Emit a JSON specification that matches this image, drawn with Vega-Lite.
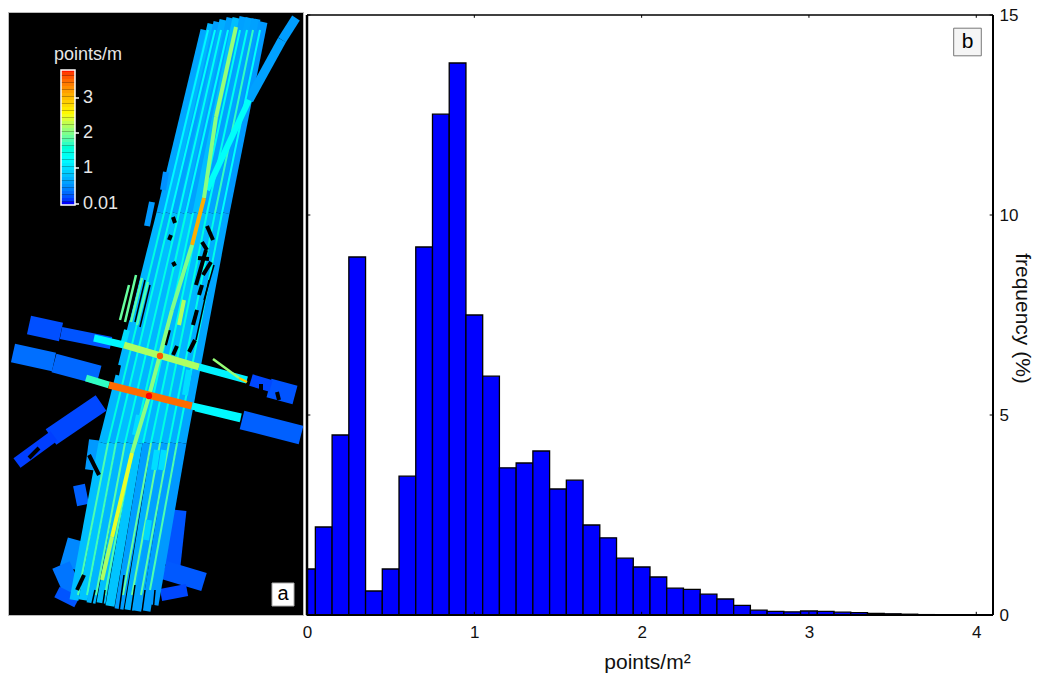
{"$schema":"https://vega.github.io/schema/vega-lite/v6.json","padding":{"left":7,"top":5,"right":14,"bottom":8},"background":"white","spacing":4,"bounds":"flush",
"config":{"font":"Liberation Sans","view":{"stroke":null},"axis":{"grid":false,"domain":false,"ticks":false}},
"datasets":{
"bins":[{"bin_start":0,"bin_end":0.05,"frequency":1.15},{"bin_start":0.05,"bin_end":0.15,"frequency":2.2},{"bin_start":0.15,"bin_end":0.25,"frequency":4.5},{"bin_start":0.25,"bin_end":0.35,"frequency":8.95},{"bin_start":0.35,"bin_end":0.45,"frequency":0.6},{"bin_start":0.45,"bin_end":0.55,"frequency":1.15},{"bin_start":0.55,"bin_end":0.65,"frequency":3.47},{"bin_start":0.65,"bin_end":0.75,"frequency":9.2},{"bin_start":0.75,"bin_end":0.85,"frequency":12.52},{"bin_start":0.85,"bin_end":0.95,"frequency":13.8},{"bin_start":0.95,"bin_end":1.05,"frequency":7.5},{"bin_start":1.05,"bin_end":1.15,"frequency":5.97},{"bin_start":1.15,"bin_end":1.25,"frequency":3.68},{"bin_start":1.25,"bin_end":1.35,"frequency":3.8},{"bin_start":1.35,"bin_end":1.45,"frequency":4.1},{"bin_start":1.45,"bin_end":1.55,"frequency":3.15},{"bin_start":1.55,"bin_end":1.65,"frequency":3.37},{"bin_start":1.65,"bin_end":1.75,"frequency":2.25},{"bin_start":1.75,"bin_end":1.85,"frequency":1.93},{"bin_start":1.85,"bin_end":1.95,"frequency":1.42},{"bin_start":1.95,"bin_end":2.05,"frequency":1.2},{"bin_start":2.05,"bin_end":2.15,"frequency":0.95},{"bin_start":2.15,"bin_end":2.25,"frequency":0.67},{"bin_start":2.25,"bin_end":2.35,"frequency":0.64},{"bin_start":2.35,"bin_end":2.45,"frequency":0.52},{"bin_start":2.45,"bin_end":2.55,"frequency":0.4},{"bin_start":2.55,"bin_end":2.65,"frequency":0.24},{"bin_start":2.65,"bin_end":2.75,"frequency":0.12},{"bin_start":2.75,"bin_end":2.85,"frequency":0.09},{"bin_start":2.85,"bin_end":2.95,"frequency":0.08},{"bin_start":2.95,"bin_end":3.05,"frequency":0.1},{"bin_start":3.05,"bin_end":3.15,"frequency":0.09},{"bin_start":3.15,"bin_end":3.25,"frequency":0.07},{"bin_start":3.25,"bin_end":3.35,"frequency":0.06},{"bin_start":3.35,"bin_end":3.45,"frequency":0.04},{"bin_start":3.45,"bin_end":3.55,"frequency":0.03},{"bin_start":3.55,"bin_end":3.65,"frequency":0.02},{"bin_start":3.65,"bin_end":3.75,"frequency":0.01},{"bin_start":3.75,"bin_end":3.85,"frequency":0.005},{"bin_start":3.85,"bin_end":3.95,"frequency":0.005},{"bin_start":3.95,"bin_end":4.05,"frequency":0.005}],
"map":[
{"k":"wide","x":30,"y":325,"x2":62,"y2":332,"d":0.18},{"k":"fringe","x":62,"y":333,"x2":112,"y2":343,"d":0.2},{"k":"wide","x":14,"y":353,"x2":55,"y2":362,"d":0.32},{"k":"wide","x":55,"y":363,"x2":100,"y2":375,"d":0.28},{"k":"fringe","x":252,"y":380,"x2":272,"y2":386,"d":0.15},{"k":"wide","x":270,"y":388,"x2":296,"y2":395,"d":0.2},{"k":"wide","x":243,"y":420,"x2":302,"y2":435,"d":0.25},
{"k":"wide","x":102,"y":403,"x2":52,"y2":437,"d":0.15},{"k":"fringe","x":55,"y":436,"x2":18,"y2":463,"d":0.12},
{"k":"wide","x":178,"y":510,"x2":172,"y2":565,"d":0.2},{"k":"wide","x":165,"y":570,"x2":205,"y2":582,"d":0.22},{"k":"fringe","x":162,"y":595,"x2":188,"y2":590,"d":0.15},
{"k":"fringe","x":96,"y":440,"x2":92,"y2":470,"d":0.55},{"k":"fringe","x":80,"y":485,"x2":84,"y2":505,"d":0.25},{"k":"wide","x":78,"y":540,"x2":70,"y2":568,"d":0.45},{"k":"wide","x":62,"y":565,"x2":74,"y2":592,"d":0.35},{"k":"fringe","x":58,"y":592,"x2":78,"y2":602,"d":0.2},
{"k":"diag","x":167,"y":172,"x2":164,"y2":190,"d":0.5},{"k":"diag","x":153,"y":202,"x2":148,"y2":226,"d":0.55},
{"k":"swath","x":206,"y":30,"x2":162,"y2":213,"d":0.62},{"k":"swath","x":213,"y":24,"x2":169,"y2":213,"d":0.72},{"k":"swath","x":219,"y":22,"x2":176,"y2":213,"d":0.6},{"k":"swath","x":225,"y":20,"x2":183,"y2":213,"d":0.68},{"k":"swath","x":232,"y":18,"x2":190,"y2":213,"d":0.6},{"k":"swath","x":238,"y":18,"x2":198,"y2":213,"d":0.78},{"k":"swath","x":245,"y":17,"x2":205,"y2":213,"d":0.6},{"k":"swath","x":251,"y":18,"x2":212,"y2":213,"d":0.62},{"k":"swath","x":257,"y":19,"x2":219,"y2":213,"d":0.6},{"k":"swath","x":264,"y":22,"x2":226,"y2":213,"d":0.55},
{"k":"swath","x":162,"y":213,"x2":104,"y2":443,"d":0.72},{"k":"swath","x":169,"y":213,"x2":113,"y2":443,"d":0.68},{"k":"swath","x":176,"y":213,"x2":122,"y2":443,"d":0.78},{"k":"swath","x":183,"y":213,"x2":130,"y2":443,"d":0.72},{"k":"swath","x":190,"y":213,"x2":139,"y2":443,"d":0.82},{"k":"swath","x":198,"y":213,"x2":148,"y2":443,"d":0.72},{"k":"swath","x":205,"y":213,"x2":157,"y2":443,"d":0.78},{"k":"swath","x":212,"y":213,"x2":165,"y2":443,"d":0.72},{"k":"swath","x":219,"y":213,"x2":174,"y2":443,"d":0.68},{"k":"swath","x":226,"y":213,"x2":183,"y2":443,"d":0.62},
{"k":"swath","x":104,"y":443,"x2":75,"y2":600,"d":0.78},{"k":"swath","x":113,"y":443,"x2":84,"y2":600,"d":0.82},{"k":"swath","x":122,"y":443,"x2":92,"y2":603,"d":0.72},{"k":"swath","x":130,"y":443,"x2":102,"y2":603,"d":0.78},{"k":"swath","x":139,"y":443,"x2":111,"y2":606,"d":0.82},{"k":"swath","x":148,"y":443,"x2":120,"y2":609,"d":0.58},{"k":"swath","x":157,"y":443,"x2":130,"y2":610,"d":0.68},{"k":"swath","x":165,"y":443,"x2":138,"y2":611,"d":0.6},{"k":"swath","x":174,"y":443,"x2":147,"y2":611,"d":0.58},{"k":"swath","x":183,"y":443,"x2":155,"y2":605,"d":0.55},
{"k":"diag","x":158,"y":450,"x2":155,"y2":470,"d":1.0},{"k":"diag","x":165,"y":450,"x2":162,"y2":470,"d":1.0},{"k":"diag","x":150,"y":520,"x2":147,"y2":540,"d":0.95},{"k":"diag","x":128,"y":330,"x2":124,"y2":345,"d":1.0},{"k":"diag","x":190,"y":370,"x2":186,"y2":395,"d":1.0},{"k":"diag","x":140,"y":415,"x2":136,"y2":435,"d":1.0},
{"k":"overlap","x":209,"y":30,"x2":165,"y2":213,"d":1.2},{"k":"overlap","x":216,"y":30,"x2":172,"y2":213,"d":1.3},{"k":"overlap","x":222,"y":30,"x2":180,"y2":213,"d":1.35},{"k":"overlap","x":229,"y":30,"x2":187,"y2":213,"d":1.3},{"k":"overlap","x":241,"y":30,"x2":201,"y2":213,"d":1.4},{"k":"overlap","x":248,"y":30,"x2":208,"y2":213,"d":1.4},{"k":"overlap","x":254,"y":30,"x2":216,"y2":213,"d":1.7},{"k":"overlap","x":261,"y":30,"x2":223,"y2":213,"d":1.3},
{"k":"overlap","x":165,"y":213,"x2":109,"y2":443,"d":1.5},{"k":"overlap","x":172,"y":213,"x2":117,"y2":443,"d":1.45},{"k":"overlap","x":180,"y":213,"x2":126,"y2":443,"d":1.45},{"k":"overlap","x":187,"y":213,"x2":135,"y2":443,"d":1.5},{"k":"overlap","x":194,"y":213,"x2":144,"y2":443,"d":1.45},{"k":"overlap","x":201,"y":213,"x2":152,"y2":443,"d":1.45},{"k":"overlap","x":208,"y":213,"x2":161,"y2":443,"d":1.5},{"k":"overlap","x":216,"y":213,"x2":170,"y2":443,"d":1.45},{"k":"overlap","x":223,"y":213,"x2":178,"y2":443,"d":1.45},
{"k":"overlap","x":109,"y":443,"x2":79,"y2":595,"d":1.8},{"k":"overlap","x":117,"y":443,"x2":88,"y2":595,"d":1.75},{"k":"overlap","x":126,"y":443,"x2":97,"y2":595,"d":1.85},{"k":"overlap","x":135,"y":443,"x2":106,"y2":595,"d":1.8},{"k":"overlap","x":152,"y":443,"x2":124,"y2":595,"d":1.9},{"k":"overlap","x":161,"y":443,"x2":133,"y2":595,"d":1.9},{"k":"overlap","x":170,"y":443,"x2":142,"y2":595,"d":1.85},{"k":"overlap","x":178,"y":443,"x2":151,"y2":590,"d":1.8},
{"k":"swath","x":297,"y":18,"x2":283,"y2":40,"d":0.58},{"k":"swath","x":283,"y":40,"x2":250,"y2":100,"d":0.6},{"k":"diag","x":250,"y":100,"x2":208,"y2":190,"d":1.3},{"k":"axial","x":237,"y":27,"x2":217,"y2":117,"d":2.1},{"k":"axial","x":217,"y":117,"x2":205,"y2":198,"d":2.05},{"k":"axial","x":205,"y":198,"x2":193,"y2":245,"d":3.1},{"k":"axial","x":193,"y":245,"x2":173,"y2":310,"d":2.0},{"k":"axial","x":185,"y":300,"x2":180,"y2":325,"d":2.2},{"k":"axial","x":173,"y":310,"x2":150,"y2":396,"d":2.05},{"k":"axial","x":150,"y":396,"x2":133,"y2":453,"d":2.05},{"k":"axial","x":133,"y":453,"x2":113,"y2":537,"d":2.45},{"k":"axial","x":113,"y":537,"x2":103,"y2":580,"d":2.2},
{"k":"strip","x":95,"y":338,"x2":125,"y2":345,"d":1.2},{"k":"strip","x":125,"y":345,"x2":200,"y2":367,"d":2.2},{"k":"strip","x":200,"y":367,"x2":248,"y2":380,"d":1.15},{"k":"thin","x":214,"y":359,"x2":240,"y2":378,"d":2.1},{"k":"thin","x":240,"y":378,"x2":248,"y2":382,"d":2.9},
{"k":"strip","x":87,"y":378,"x2":110,"y2":385,"d":1.7},{"k":"strip","x":110,"y":385,"x2":193,"y2":406,"d":3.5},{"k":"strip","x":193,"y":406,"x2":242,"y2":417,"d":1.2},{"k":"thin","x":196,"y":410,"x2":241,"y2":421,"d":1.2},
{"k":"thin","x":137,"y":275,"x2":126,"y2":322,"d":1.9},{"k":"thin","x":143,"y":278,"x2":132,"y2":322,"d":1.85},{"k":"thin","x":149,"y":282,"x2":138,"y2":325,"d":1.8},{"k":"thin","x":130,"y":285,"x2":121,"y2":320,"d":1.9},
{"k":"gap","x":207,"y":250,"x2":197,"y2":285,"d":0},{"k":"gap","x":212,"y":262,"x2":204,"y2":275,"d":0},{"k":"gap","x":208,"y":226,"x2":214,"y2":240,"d":0},{"k":"gap","x":203,"y":242,"x2":208,"y2":250,"d":0},{"k":"gap","x":199,"y":258,"x2":210,"y2":259,"d":0},{"k":"gap","x":174,"y":217,"x2":176,"y2":223,"d":0},{"k":"gap","x":172,"y":235,"x2":170,"y2":240,"d":0},{"k":"gap","x":178,"y":346,"x2":174,"y2":355,"d":0},{"k":"gap","x":203,"y":285,"x2":200,"y2":295,"d":0},{"k":"gap","x":174,"y":262,"x2":176,"y2":266,"d":0},{"k":"gap","x":198,"y":310,"x2":194,"y2":325,"d":0},{"k":"gap","x":170,"y":330,"x2":166,"y2":345,"d":0},{"k":"gap","x":196,"y":340,"x2":190,"y2":352,"d":0},{"k":"gap","x":120,"y":365,"x2":118,"y2":375,"d":0},{"k":"gap","x":90,"y":455,"x2":100,"y2":475,"d":0},{"k":"gap","x":85,"y":575,"x2":78,"y2":590,"d":0},{"k":"gap","x":278,"y":392,"x2":280,"y2":400,"d":0},{"k":"gap","x":262,"y":384,"x2":262,"y2":390,"d":0},{"k":"gap","x":40,"y":448,"x2":30,"y2":458,"d":0},
{"k":"gapthin","x":134,"y":278,"x2":124,"y2":320,"d":0},{"k":"gapthin","x":140,"y":278,"x2":130,"y2":320,"d":0},{"k":"gapthin","x":146,"y":280,"x2":136,"y2":322,"d":0},{"k":"gapthin","x":151,"y":285,"x2":141,"y2":327,"d":0},{"k":"gapthin","x":210,"y":280,"x2":197,"y2":340,"d":0},{"k":"gapthin","x":215,"y":265,"x2":205,"y2":300,"d":0},{"k":"gapthin","x":125,"y":575,"x2":120,"y2":612,"d":0},{"k":"gapthin","x":136,"y":585,"x2":132,"y2":612,"d":0},{"k":"gapthin","x":146,"y":590,"x2":143,"y2":612,"d":0},{"k":"gapthin","x":156,"y":590,"x2":154,"y2":612,"d":0},{"k":"gapthin","x":106,"y":590,"x2":103,"y2":610,"d":0},{"k":"gapthin","x":96,"y":590,"x2":92,"y2":608,"d":0}
],
"hot":[{"x":161,"y":356,"d":3.6},{"x":150,"y":396,"d":3.83}],
"cbar":[{"x":62,"x2":76,"d":0.01,"y":205,"y2":201.5},{"x":62,"x2":76,"d":0.1,"y":201.5,"y2":198},{"x":62,"x2":76,"d":0.2,"y":198,"y2":194.5},{"x":62,"x2":76,"d":0.3,"y":194.5,"y2":191},{"x":62,"x2":76,"d":0.4,"y":191,"y2":187.5},{"x":62,"x2":76,"d":0.5,"y":187.5,"y2":184},{"x":62,"x2":76,"d":0.6,"y":184,"y2":180.5},{"x":62,"x2":76,"d":0.7,"y":180.5,"y2":177},{"x":62,"x2":76,"d":0.8,"y":177,"y2":173.5},{"x":62,"x2":76,"d":0.9,"y":173.5,"y2":170},{"x":62,"x2":76,"d":1.0,"y":170,"y2":166.5},{"x":62,"x2":76,"d":1.1,"y":166.5,"y2":163},{"x":62,"x2":76,"d":1.2,"y":163,"y2":159.5},{"x":62,"x2":76,"d":1.3,"y":159.5,"y2":156},{"x":62,"x2":76,"d":1.4,"y":156,"y2":152.5},{"x":62,"x2":76,"d":1.5,"y":152.5,"y2":149},{"x":62,"x2":76,"d":1.6,"y":149,"y2":145.5},{"x":62,"x2":76,"d":1.7,"y":145.5,"y2":142},{"x":62,"x2":76,"d":1.8,"y":142,"y2":138.5},{"x":62,"x2":76,"d":1.9,"y":138.5,"y2":135},{"x":62,"x2":76,"d":2.0,"y":135,"y2":131.5},{"x":62,"x2":76,"d":2.1,"y":131.5,"y2":128},{"x":62,"x2":76,"d":2.2,"y":128,"y2":124.5},{"x":62,"x2":76,"d":2.3,"y":124.5,"y2":121},{"x":62,"x2":76,"d":2.4,"y":121,"y2":117.5},{"x":62,"x2":76,"d":2.5,"y":117.5,"y2":114},{"x":62,"x2":76,"d":2.6,"y":114,"y2":110.5},{"x":62,"x2":76,"d":2.7,"y":110.5,"y2":107},{"x":62,"x2":76,"d":2.8,"y":107,"y2":103.5},{"x":62,"x2":76,"d":2.9,"y":103.5,"y2":100},{"x":62,"x2":76,"d":3.0,"y":100,"y2":96.5},{"x":62,"x2":76,"d":3.1,"y":96.5,"y2":93},{"x":62,"x2":76,"d":3.2,"y":93,"y2":89.5},{"x":62,"x2":76,"d":3.3,"y":89.5,"y2":86},{"x":62,"x2":76,"d":3.4,"y":86,"y2":82.5},{"x":62,"x2":76,"d":3.5,"y":82.5,"y2":79},{"x":62,"x2":76,"d":3.6,"y":79,"y2":75.5},{"x":62,"x2":76,"d":3.7,"y":75.5,"y2":72},{"x":62,"x2":76,"d":3.8,"y":72,"y2":70}],
"cbar_ticks":[{"x":76,"x2":80,"y":98,"label":"3"},{"x":76,"x2":80,"y":133,"label":"2"},{"x":76,"x2":80,"y":168,"label":"1"},{"x":76,"x2":80,"y":204,"label":"0.01"}],
"tick_x":[{"at":1},{"at":2},{"at":3},{"at":4}],
"tick_y":[{"at":5},{"at":10},{"at":15}]
},
"hconcat":[
{"width":295,"height":603,"view":{"fill":"black","stroke":"#bbbbbb"},
"encoding":{"x":{"field":"x","type":"quantitative","scale":{"domain":[9,304]},"axis":null},"y":{"field":"y","type":"quantitative","scale":{"domain":[615,12]},"axis":null}},
"layer":[
{"data":{"name":"map"},"transform":[{"filter":"datum.k=='wide'"}],"mark":{"type":"rule","strokeWidth":19,"clip":true},"encoding":{"x2":{"field":"x2"},"y2":{"field":"y2"},"color":{"field":"d","type":"quantitative","legend":null,"scale":{"domain":[0.01,1.25,2.55,3.83],"range":["#0000ff","#00ffff","#ffff00","#ff0000"]}}}},
{"data":{"name":"map"},"transform":[{"filter":"datum.k=='fringe'"}],"mark":{"type":"rule","strokeWidth":12,"clip":true},"encoding":{"x2":{"field":"x2"},"y2":{"field":"y2"},"color":{"field":"d","type":"quantitative","legend":null}}},
{"data":{"name":"map"},"transform":[{"filter":"datum.k=='swath'"}],"mark":{"type":"rule","strokeWidth":9,"clip":true},"encoding":{"x2":{"field":"x2"},"y2":{"field":"y2"},"color":{"field":"d","type":"quantitative","legend":null}}},
{"data":{"name":"map"},"transform":[{"filter":"datum.k=='overlap'"}],"mark":{"type":"rule","strokeWidth":2,"clip":true},"encoding":{"x2":{"field":"x2"},"y2":{"field":"y2"},"color":{"field":"d","type":"quantitative","legend":null}}},
{"data":{"name":"map"},"transform":[{"filter":"datum.k=='diag'"}],"mark":{"type":"rule","strokeWidth":6,"clip":true},"encoding":{"x2":{"field":"x2"},"y2":{"field":"y2"},"color":{"field":"d","type":"quantitative","legend":null}}},
{"data":{"name":"map"},"transform":[{"filter":"datum.k=='gap'"}],"mark":{"type":"rule","strokeWidth":4,"color":"black","clip":true},"encoding":{"x2":{"field":"x2"},"y2":{"field":"y2"}}},
{"data":{"name":"map"},"transform":[{"filter":"datum.k=='gapthin'"}],"mark":{"type":"rule","strokeWidth":1.5,"color":"black","clip":true},"encoding":{"x2":{"field":"x2"},"y2":{"field":"y2"}}},
{"data":{"name":"map"},"transform":[{"filter":"datum.k=='axial'"}],"mark":{"type":"rule","strokeWidth":4,"clip":true},"encoding":{"x2":{"field":"x2"},"y2":{"field":"y2"},"color":{"field":"d","type":"quantitative","legend":null}}},
{"data":{"name":"map"},"transform":[{"filter":"datum.k=='strip'"}],"mark":{"type":"rule","strokeWidth":7,"clip":true},"encoding":{"x2":{"field":"x2"},"y2":{"field":"y2"},"color":{"field":"d","type":"quantitative","legend":null}}},
{"data":{"name":"map"},"transform":[{"filter":"datum.k=='thin'"}],"mark":{"type":"rule","strokeWidth":2.5,"clip":true},"encoding":{"x2":{"field":"x2"},"y2":{"field":"y2"},"color":{"field":"d","type":"quantitative","legend":null}}},
{"data":{"name":"hot"},"mark":{"type":"circle","size":40,"opacity":1},"encoding":{"color":{"field":"d","type":"quantitative","legend":null}}},
{"data":{"name":"cbar"},"mark":{"type":"rect"},"encoding":{"x2":{"field":"x2"},"y2":{"field":"y2"},"color":{"field":"d","type":"quantitative","legend":null}}},
{"data":{"values":[{"x":62,"x2":76,"y":70,"y2":205}]},"mark":{"type":"rect","fillOpacity":0,"stroke":"white","strokeWidth":1.5},"encoding":{"x2":{"field":"x2"},"y2":{"field":"y2"}}},
{"data":{"name":"cbar_ticks"},"mark":{"type":"rule","color":"white","strokeWidth":1.5},"encoding":{"x2":{"field":"x2"}}},
{"data":{"name":"cbar_ticks"},"mark":{"type":"text","color":"#e6e6e6","fontSize":18,"align":"left","baseline":"middle","dx":4},"encoding":{"x":{"field":"x2","type":"quantitative"},"text":{"field":"label"}}},
{"data":{"values":[{"x":89,"y":55,"title":"points/m"}]},"mark":{"type":"text","color":"#e6e6e6","fontSize":18,"align":"center","baseline":"middle"},"encoding":{"text":{"field":"title"}}},
{"data":{"values":[{"x":273,"x2":295,"y":583,"y2":606}]},"mark":{"type":"rect","fill":"white","stroke":"#aaaaaa"},"encoding":{"x2":{"field":"x2"},"y2":{"field":"y2"}}},
{"data":{"values":[{"x":284,"y":594,"panel":"a"}]},"mark":{"type":"text","fontSize":20,"color":"black","baseline":"middle","align":"center"},"encoding":{"text":{"field":"panel"}}}
]},
{"width":686,"height":603,"layer":[
{"data":{"name":"bins"},"mark":{"type":"rect","fill":"#0000ff","stroke":"black","strokeWidth":1.3},"encoding":{
"x":{"field":"bin_start","type":"quantitative","scale":{"domain":[0,4.1],"nice":false},"axis":{"values":[0,1,2,3,4],"format":"d","title":"points/m²","titleFontSize":21,"titleFontWeight":"normal","titleColor":"#111111","labelColor":"#111111","labelFontSize":17,"labelPadding":9,"titlePadding":11,"titleX":340,"labelFlush":false}},"x2":{"field":"bin_end"},
"y":{"field":"frequency","type":"quantitative","scale":{"domain":[0,15.075],"nice":false},"axis":{"orient":"right","values":[0,5,10,15],"title":"frequency (%)","titleFontSize":21,"titleFontWeight":"normal","titleColor":"#111111","labelColor":"#111111","labelFontSize":17,"labelPadding":6,"titleX":18,"titleY":306}},"y2":{"datum":0}}},
{"data":{"values":[{}]},"mark":{"type":"rule","strokeWidth":2.5,"color":"black"},"encoding":{"x":{"datum":0},"y":{"datum":0},"y2":{"datum":15}}},
{"data":{"values":[{}]},"mark":{"type":"rule","strokeWidth":2,"color":"black"},"encoding":{"x":{"datum":4.1},"y":{"datum":0},"y2":{"datum":15}}},
{"data":{"values":[{}]},"mark":{"type":"rule","strokeWidth":1.5,"color":"black"},"encoding":{"y":{"datum":15},"x":{"datum":0},"x2":{"datum":4.1}}},
{"data":{"values":[{}]},"mark":{"type":"rule","strokeWidth":2,"color":"black"},"encoding":{"y":{"datum":0},"x":{"datum":0},"x2":{"datum":4.1}}},
{"data":{"name":"tick_x"},"mark":{"type":"rule","color":"black"},"encoding":{"x":{"field":"at","type":"quantitative"},"y":{"datum":15},"y2":{"datum":14.93}}},
{"data":{"name":"tick_x"},"mark":{"type":"rule","color":"black"},"encoding":{"x":{"field":"at","type":"quantitative"},"y":{"datum":0},"y2":{"datum":0.08}}},
{"data":{"name":"tick_y"},"mark":{"type":"rule","color":"black"},"encoding":{"y":{"field":"at","type":"quantitative"},"x":{"datum":0},"x2":{"datum":0.02}}},
{"data":{"name":"tick_y"},"mark":{"type":"rule","color":"black"},"encoding":{"y":{"field":"at","type":"quantitative"},"x":{"datum":4.08},"x2":{"datum":4.1}}},
{"data":{"values":[{"a":3.865,"b":4.03,"c":14.67,"e":13.98}]},"mark":{"type":"rect","fill":"#f5f5f5","stroke":"#777777"},"encoding":{"x":{"field":"a","type":"quantitative"},"x2":{"field":"b"},"y":{"field":"c","type":"quantitative"},"y2":{"field":"e"}}},
{"data":{"values":[{"a":3.948,"c":14.32,"panel":"b"}]},"mark":{"type":"text","fontSize":21,"color":"black","baseline":"middle","align":"center"},"encoding":{"x":{"field":"a","type":"quantitative"},"y":{"field":"c","type":"quantitative"},"text":{"field":"panel"}}}
]}
],"resolve":{"scale":{"color":"independent"}}}
